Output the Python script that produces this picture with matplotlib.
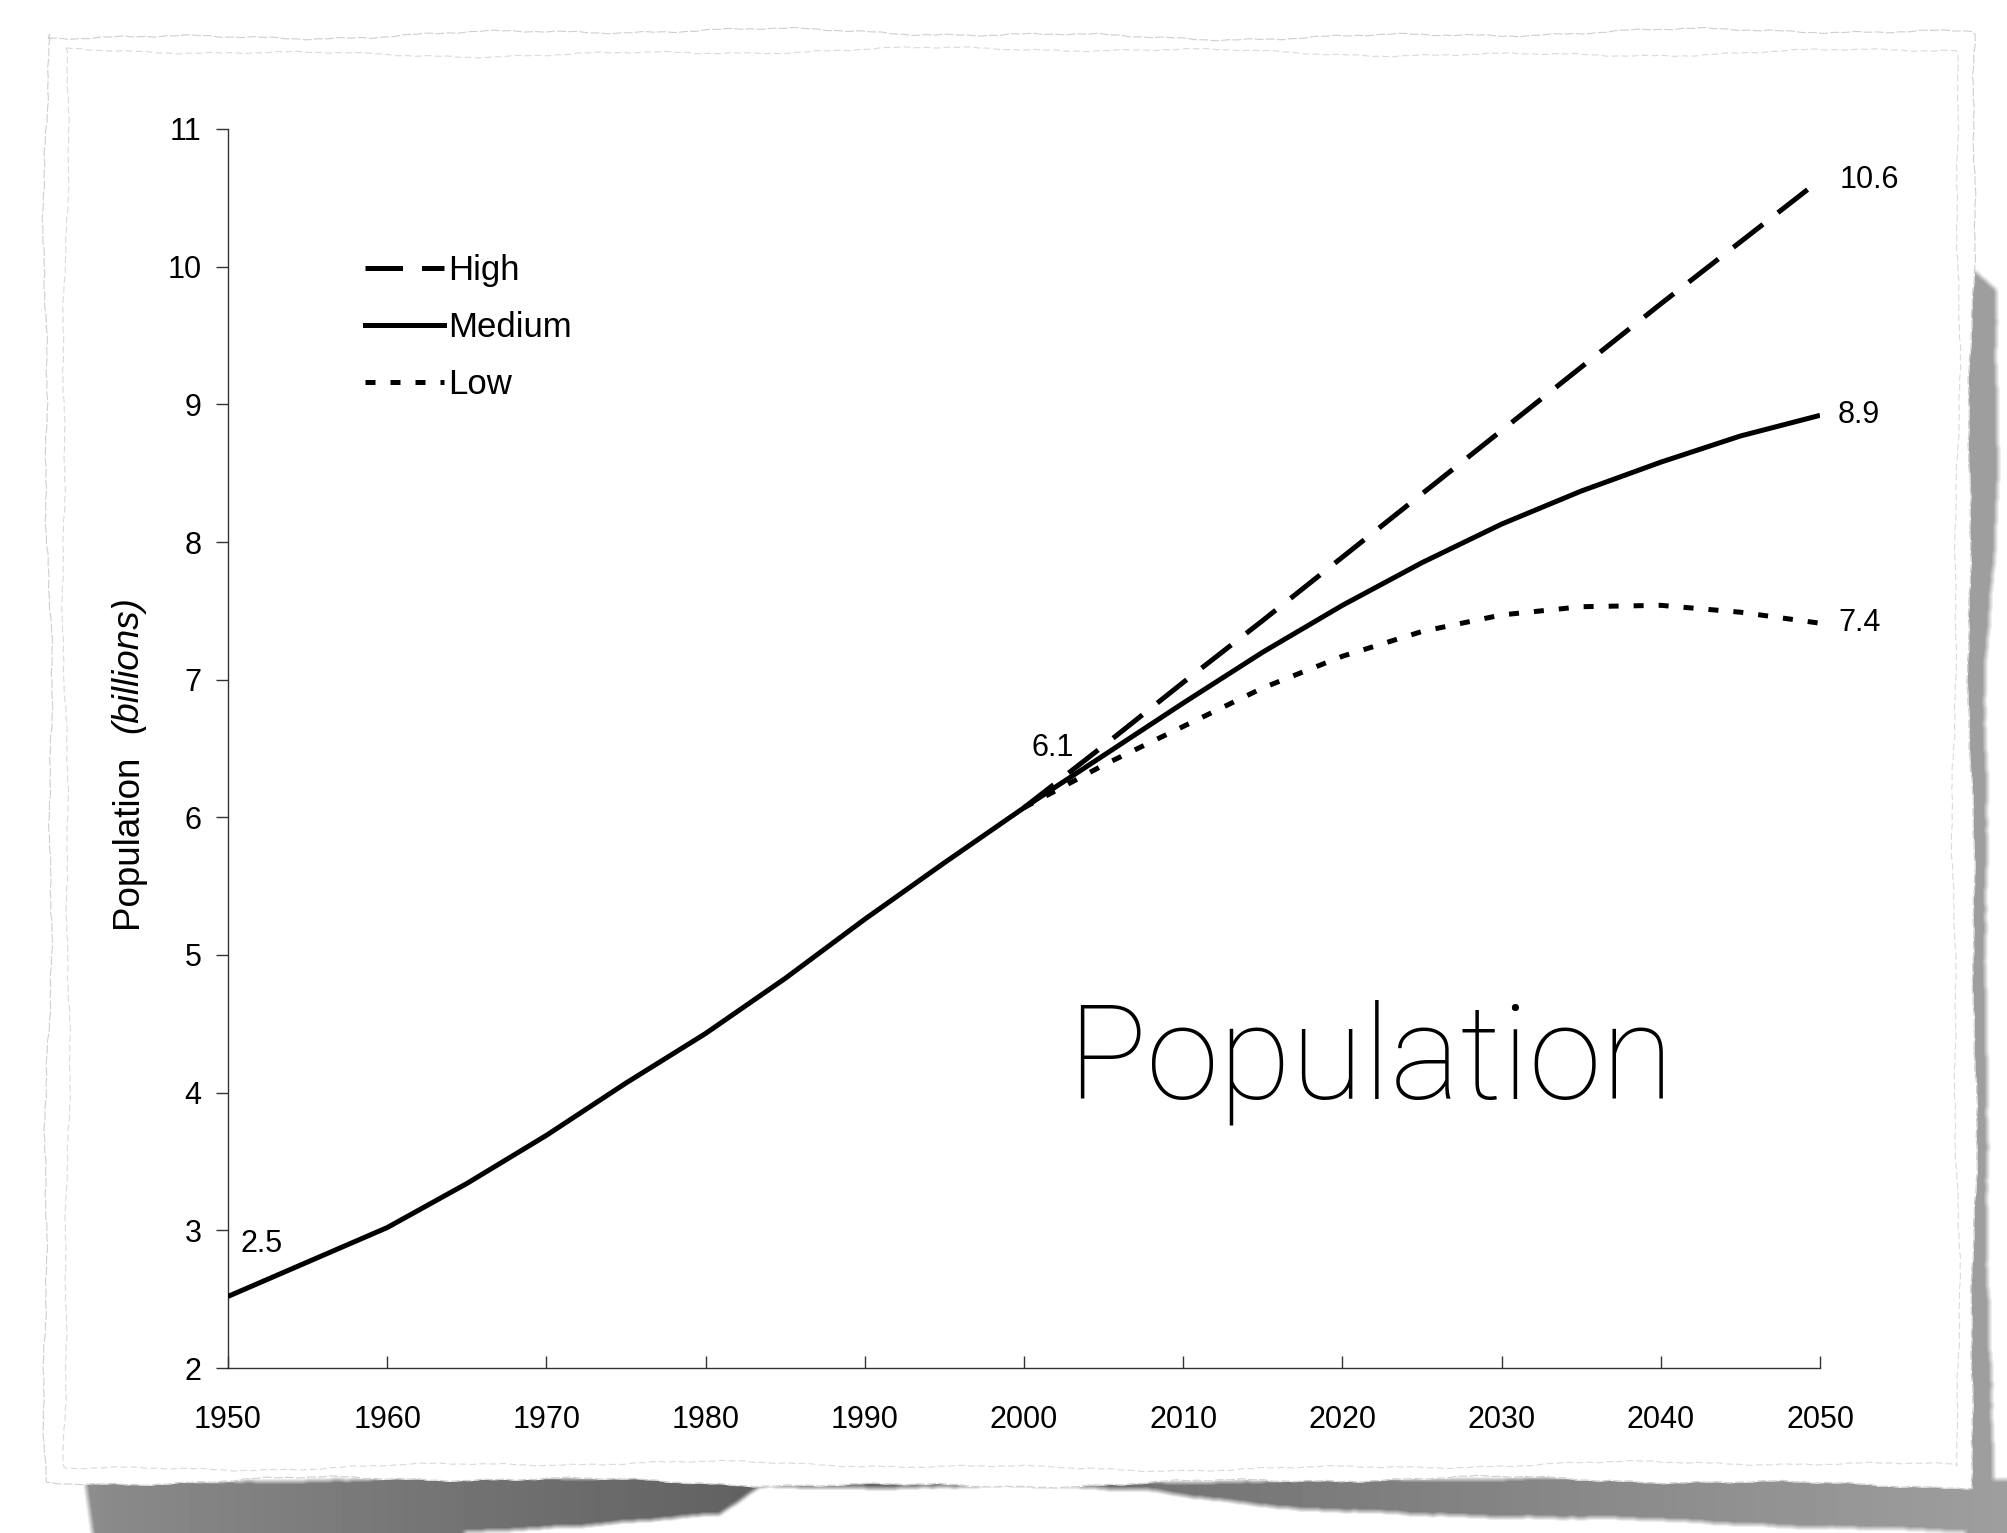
import numpy as np
import matplotlib
matplotlib.use("Agg")
from matplotlib import pyplot as plt
from matplotlib.lines import Line2D

# World population estimates and projections (billions)
years = [1950, 1955, 1960, 1965, 1970, 1975, 1980, 1985, 1990, 1995, 2000,
         2005, 2010, 2015, 2020, 2025, 2030, 2035, 2040, 2045, 2050]
medium = [2.52, 2.77, 3.02, 3.34, 3.69, 4.07, 4.43, 4.83, 5.26, 5.67, 6.07,
          6.45, 6.83, 7.20, 7.54, 7.85, 8.13, 8.37, 8.58, 8.77, 8.92]

proj_years = [2000, 2005, 2010, 2015, 2020, 2025, 2030, 2035, 2040, 2045, 2050]
high = [6.07, 6.52, 6.98, 7.43, 7.89, 8.35, 8.81, 9.27, 9.73, 10.18, 10.63]
low = [6.07, 6.38, 6.66, 6.94, 7.17, 7.35, 7.47, 7.53, 7.54, 7.49, 7.41]

x_ticks = list(range(1950, 2051, 10))
y_ticks = list(range(2, 12))

W, H = 2007, 1533
fig = plt.figure(figsize=(W / 100, H / 100), dpi=100)
fig.patch.set_facecolor("white")

sans = ["Liberation Sans", "DejaVu Sans"]
small = 22

# --- torn paper sheet with a soft drop shadow, in pixel coordinates ---
bg = fig.add_axes([0, 0, 1, 1])
bg.set_xlim(0, W)
bg.set_ylim(H, 0)
bg.axis("off")


def ragged(t, amp, p):
    return amp * (0.55 * np.sin(t * 0.006 + p) + 0.3 * np.sin(t * 0.021 + 2.1 * p)
                  + 0.1 * np.sin(t * 0.083 + 3.7 * p) + 0.05 * np.sin(t * 0.29 + 1.3 * p))


left, top, right, bottom = 48, 34, 1972, 1482

# shadow raster
cols = np.arange(W)
rows = np.arange(H)
shade = np.zeros((H, W))
b_top = bottom - 3 + ragged(cols, 4, 0.9)
b_thick = np.interp(cols, [85, 95, 400, 720, 760, 1000, 1150, 1300, 1600, 2007],
                    [0, 70, 60, 38, 10, 6, 8, 30, 42, 55])
b_dark = np.interp(cols, [85, 110, 500, 760, 1300, 2007], [0.44, 0.46, 0.56, 0.62, 0.52, 0.38])
R, C = np.meshgrid(rows, cols, indexing="ij")
in_bottom = (R >= b_top[None, :]) & (R <= (b_top + b_thick)[None, :])
shade = np.where(in_bottom, b_dark[None, :], shade)
r_left = right - 4 + ragged(rows, 4, 1.7)
r_width = np.interp(rows, [265, 290, 450, 560, 700, 1100, 1400, H],
                    [0, 30, 32, 28, 18, 16, 24, 30])
in_right = (C >= r_left[:, None]) & (C <= (r_left + r_width)[:, None])
shade = np.where(in_right, np.maximum(shade, 0.38), shade)


def box_blur(a, k):
    out = a
    for axis in (0, 1):
        c = np.cumsum(np.pad(out, [(k, k) if i == axis else (0, 0) for i in range(2)],
                             mode="edge"), axis=axis)
        n = out.shape[axis]
        hi = np.take(c, np.arange(2 * k, 2 * k + n), axis=axis)
        lo = np.take(c, np.arange(0, n), axis=axis)
        out = (hi - lo) / (2 * k)
    return out


shade = box_blur(shade, 3)
bg.imshow(1 - shade, cmap="gray", vmin=0, vmax=1, extent=(0, W, H, 0),
          interpolation="bilinear", zorder=1)

tx = np.linspace(left, right, 500)
ty = np.linspace(top, bottom, 400)
top_y = top + ragged(tx, 7, 0.4)
right_x = right + ragged(ty, 6, 1.3)
bot_y = bottom + ragged(tx, 7, 2.2)
left_x = left + ragged(ty, 6, 3.1)
px = np.concatenate([tx, right_x, tx[::-1], left_x[::-1]])
py = np.concatenate([top_y, ty, bot_y[::-1], ty[::-1]])
bg.fill(px, py, color="white", zorder=2)
bg.plot(np.append(px, px[0]), np.append(py, py[0]), color="#cfcfcf", lw=0.8,
        linestyle=(0, (8, 2)), zorder=3)

# faint inner torn edge
ix = np.linspace(left + 18, right - 16, 500)
iy = np.linspace(top + 18, bottom - 16, 400)
in_top = top + 18 + ragged(ix, 6, 5.0)
in_right = right - 16 + ragged(iy, 5, 6.0)
in_bot = bottom - 16 + ragged(ix, 6, 7.0)
in_left = left + 18 + ragged(iy, 5, 8.0)
qx = np.concatenate([ix, in_right, ix[::-1], in_left[::-1], [ix[0]]])
qy = np.concatenate([in_top, iy, in_bot[::-1], iy[::-1], [in_top[0]]])
bg.plot(qx, qy, color="#dadada", lw=0.8, linestyle=(0, (6, 3)), zorder=3)

# --- the chart itself ---
ax = fig.add_axes([228 / W, 1 - 1368 / H, (1820 - 228) / W, (1368 - 129) / H])
ax.patch.set_alpha(0)

ax.plot(years, medium, color="black", lw=3.6, solid_capstyle="butt", label="Medium", zorder=3)
ax.plot(proj_years, high, color="black", lw=3.6, linestyle=(0, (7.5, 3.8)), label="High", zorder=3)
ax.plot(proj_years, low, color="black", lw=3.6, linestyle=(0, (2.0, 3.0)), label="Low", zorder=3)

ax.set_xlim(1950, 2050)
ax.set_ylim(2, 11)
ax.set_xticks(x_ticks)
ax.set_yticks(y_ticks)
for s in ["top", "right"]:
    ax.spines[s].set_visible(False)
for s in ["left", "bottom"]:
    ax.spines[s].set_color("#333333")
    ax.spines[s].set_linewidth(1.0)
ax.tick_params(axis="x", direction="in", length=9, width=1, color="#333333", pad=27)
ax.tick_params(axis="y", direction="out", length=9, width=1, color="#333333", pad=10)
for lab in ax.get_xticklabels() + ax.get_yticklabels():
    lab.set_fontfamily(sans)
    lab.set_fontsize(small)


# value labels
def note(x, y, dx, dy, ha="center"):
    ax.annotate(f"{y:.1f}", (x, y), xytext=(dx, dy), textcoords="offset points",
                ha=ha, va="center", fontsize=small, family=sans)


note(years[0], medium[0], 24, 38)
note(years[10], medium[10], 21, 43)
note(proj_years[-1], high[-1], 14, 0, ha="left")
note(years[-1], medium[-1], 13, 0, ha="left")
note(proj_years[-1], low[-1], 13, 0, ha="left")

handles = [Line2D([], [], color="black", lw=3.6, linestyle=(0, (7.5, 3.8))),
           Line2D([], [], color="black", lw=3.6),
           Line2D([], [], color="black", lw=3.6, linestyle=(0, (2.0, 3.0)))]
ax.legend(handles, ["High", "Medium", "Low"], loc="upper left",
          bbox_to_anchor=(0.086, 0.899), frameon=False, handlelength=2.28,
          handletextpad=0.12, labelspacing=0.69, borderpad=0, borderaxespad=0,
          prop={"family": sans, "size": 25})

# axis title: plain word plus italic unit, with a wide gap between them
fig.text(128 / W, 1 - 928 / H, "Population", rotation=90, ha="center", va="bottom",
         fontsize=26.5, family=sans)
fig.text(128 / W, 1 - 733 / H, "(billions)", rotation=90, ha="center", va="bottom",
         fontsize=26.5, family=sans, style="italic")

# large slide caption
fig.text(1370 / W, 1 - 1062 / H, "Population", ha="center", va="center",
         fontsize=95, family=["Roboto", "Liberation Sans"], fontweight="light")

fig.savefig("out.png", dpi=100)
